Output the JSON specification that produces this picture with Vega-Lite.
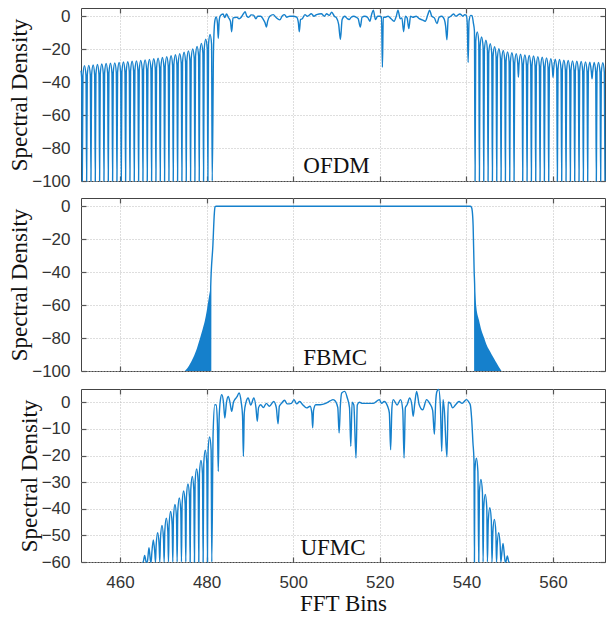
{
"$schema":"https://vega.github.io/schema/vega-lite/v6.json",
"padding":{"left":8,"top":6,"right":9,"bottom":4},
"spacing":6,
"config":{
 "view":{"stroke":"#444","strokeWidth":1},
 "axis":{"domain":false,"grid":true,"gridColor":"#bdbdbd","gridDash":[1,2],"gridWidth":1,"tickColor":"#555","tickSize":-5,"tickWidth":1.2,"labelFont":"Liberation Sans","labelFontSize":17,"labelColor":"#333","titleFont":"Liberation Serif","titleFontSize":23,"titleFontWeight":"normal","titleColor":"#111"}
},
"datasets":{
"ofdm":[
{"x":451,"y":-33},{"x":451.15,"y":-37},{"x":451.3,"y":-100},
{"x":451.45,"y":-36},{"x":451.8,"y":-30},{"x":452.15,"y":-36},{"x":452.3,"y":-100},
{"x":452.45,"y":-35.8},{"x":452.8,"y":-29.8},{"x":453.15,"y":-35.8},{"x":453.3,"y":-100},
{"x":453.45,"y":-35.6},{"x":453.8,"y":-29.6},{"x":454.15,"y":-35.6},{"x":454.3,"y":-100},
{"x":454.45,"y":-35.3},{"x":454.8,"y":-29.3},{"x":455.15,"y":-35.3},{"x":455.3,"y":-100},
{"x":455.45,"y":-35},{"x":455.8,"y":-29},{"x":456.15,"y":-35},{"x":456.3,"y":-100},
{"x":456.45,"y":-34.7},{"x":456.8,"y":-28.7},{"x":457.15,"y":-34.7},{"x":457.3,"y":-100},
{"x":457.45,"y":-34.5},{"x":457.8,"y":-28.5},{"x":458.15,"y":-34.5},{"x":458.3,"y":-100},
{"x":458.45,"y":-34.3},{"x":458.8,"y":-28.3},{"x":459.15,"y":-34.3},{"x":459.3,"y":-100},
{"x":459.45,"y":-34.1},{"x":459.8,"y":-28.1},{"x":460.15,"y":-34.1},{"x":460.3,"y":-100},
{"x":460.45,"y":-33.8},{"x":460.8,"y":-27.8},{"x":461.15,"y":-33.8},{"x":461.3,"y":-100},
{"x":461.45,"y":-33.6},{"x":461.8,"y":-27.6},{"x":462.15,"y":-33.6},{"x":462.3,"y":-100},
{"x":462.45,"y":-33.3},{"x":462.8,"y":-27.3},{"x":463.15,"y":-33.3},{"x":463.3,"y":-100},
{"x":463.45,"y":-33.1},{"x":463.8,"y":-27.1},{"x":464.15,"y":-33.1},{"x":464.3,"y":-100},
{"x":464.45,"y":-32.8},{"x":464.8,"y":-26.8},{"x":465.15,"y":-32.8},{"x":465.3,"y":-100},
{"x":465.45,"y":-32.5},{"x":465.8,"y":-26.5},{"x":466.15,"y":-32.5},{"x":466.3,"y":-100},
{"x":466.45,"y":-32.2},{"x":466.8,"y":-26.2},{"x":467.15,"y":-32.2},{"x":467.3,"y":-100},
{"x":467.45,"y":-31.8},{"x":467.8,"y":-25.8},{"x":468.15,"y":-31.8},{"x":468.3,"y":-100},
{"x":468.45,"y":-31.4},{"x":468.8,"y":-25.4},{"x":469.15,"y":-31.4},{"x":469.3,"y":-100},
{"x":469.45,"y":-31},{"x":469.8,"y":-25},{"x":470.15,"y":-31},{"x":470.3,"y":-100},
{"x":470.45,"y":-30.5},{"x":470.8,"y":-24.5},{"x":471.15,"y":-30.5},{"x":471.3,"y":-100},
{"x":471.45,"y":-30},{"x":471.8,"y":-24},{"x":472.15,"y":-30},{"x":472.3,"y":-100},
{"x":472.45,"y":-29.4},{"x":472.8,"y":-23.4},{"x":473.15,"y":-29.4},{"x":473.3,"y":-100},
{"x":473.45,"y":-28.7},{"x":473.8,"y":-22.7},{"x":474.15,"y":-28.7},{"x":474.3,"y":-100},
{"x":474.45,"y":-27.9},{"x":474.8,"y":-21.9},{"x":475.15,"y":-27.9},{"x":475.3,"y":-100},
{"x":475.45,"y":-27},{"x":475.8,"y":-21},{"x":476.15,"y":-27},{"x":476.3,"y":-100},
{"x":476.45,"y":-25.8},{"x":476.8,"y":-19.8},{"x":477.15,"y":-25.8},{"x":477.3,"y":-100},
{"x":477.45,"y":-24.3},{"x":477.8,"y":-18.3},{"x":478.15,"y":-24.3},{"x":478.3,"y":-100},
{"x":478.45,"y":-22.5},{"x":478.8,"y":-16.5},{"x":479.15,"y":-22.5},{"x":479.3,"y":-100},
{"x":479.45,"y":-20},{"x":479.8,"y":-14},{"x":480.15,"y":-20},{"x":480.3,"y":-100},
{"x":480.45,"y":-17},{"x":480.8,"y":-11},{"x":481.15,"y":-17},{"x":481.3,"y":-100},
{"x":481.6,"y":-20},{"x":481.9,"y":-3},{"x":482.2,"y":-0.5},{"x":482.5,"y":-4},{"x":482.7,"y":-13.4},{"x":482.9,"y":-3},{"x":483.1,"y":0},{"x":483.5,"y":1.2},{"x":483.8,"y":1.4},{"x":484.2,"y":-0.8},{"x":484.6,"y":1.4},{"x":485.0,"y":-0.6},{"x":485.5,"y":-3},{"x":485.8,"y":-9.4},{"x":486.1,"y":-1},{"x":486.6,"y":-0.8},{"x":487.0,"y":-0.6},{"x":487.5,"y":-1.5},{"x":488.0,"y":-0.6},{"x":488.5,"y":1.5},{"x":488.9,"y":2.7},{"x":489.3,"y":0},{"x":489.7,"y":-0.6},{"x":490.3,"y":0.8},{"x":490.8,"y":0.7},{"x":491.4,"y":-1.5},{"x":491.8,"y":0},{"x":492.5,"y":0},{"x":493.0,"y":-1.5},{"x":493.5,"y":-4},{"x":493.8,"y":-6.5},{"x":494.1,"y":-3},{"x":494.6,"y":0},{"x":495.4,"y":1},{"x":496.0,"y":-0.6},{"x":496.9,"y":-2.2},{"x":497.5,"y":0.3},{"x":498.0,"y":1},{"x":498.5,"y":-0.6},{"x":499.2,"y":0},{"x":500.0,"y":0},{"x":500.8,"y":-0.6},{"x":501.2,"y":-4},{"x":501.4,"y":-9.4},{"x":501.7,"y":-2},{"x":502.1,"y":-1.5},{"x":502.7,"y":1},{"x":503.3,"y":0},{"x":504.2,"y":1.5},{"x":504.8,"y":0},{"x":505.4,"y":1},{"x":506.5,"y":1.5},{"x":507.2,"y":0},{"x":507.7,"y":1.5},{"x":508.3,"y":0.5},{"x":508.9,"y":2.4},{"x":509.5,"y":0},{"x":510.0,"y":-1},{"x":510.5,"y":-5},{"x":510.9,"y":-14},{"x":511.3,"y":-2},{"x":511.9,"y":0},{"x":512.4,"y":-1.2},{"x":512.9,"y":-2},{"x":513.4,"y":-0.6},{"x":514.0,"y":0},{"x":514.5,"y":-0.5},{"x":515.0,"y":-1.5},{"x":515.5,"y":-6.5},{"x":515.9,"y":-0.6},{"x":516.5,"y":0},{"x":517.2,"y":-0.8},{"x":517.7,"y":-3},{"x":518.1,"y":1},{"x":518.5,"y":3.7},{"x":519.0,"y":-2},{"x":519.5,"y":0},{"x":520.0,"y":0},{"x":520.4,"y":-0.6},{"x":520.6,"y":-31},{"x":520.8,"y":-0.6},{"x":521.3,"y":-0.6},{"x":521.9,"y":0},{"x":522.6,"y":-1.5},{"x":523.3,"y":-3},{"x":523.8,"y":0},{"x":524.2,"y":3.7},{"x":524.7,"y":-1.5},{"x":525.1,"y":-1},{"x":525.5,"y":-9.4},{"x":525.9,"y":0},{"x":526.3,"y":-1},{"x":526.7,"y":-7.5},{"x":527.1,"y":0},{"x":527.6,"y":-0.6},{"x":528.4,"y":0},{"x":529.1,"y":-1.5},{"x":529.8,"y":-2.2},{"x":530.5,"y":-3},{"x":531.1,"y":1},{"x":531.5,"y":3.7},{"x":532.0,"y":0},{"x":532.6,"y":-1},{"x":533.2,"y":-4.5},{"x":533.7,"y":-0.6},{"x":534.3,"y":0},{"x":534.9,"y":-2},{"x":535.2,"y":-6},{"x":535.5,"y":-14.3},{"x":535.8,"y":-1},{"x":536.4,"y":0},{"x":537.0,"y":1.4},{"x":537.6,"y":0},{"x":538.5,"y":1.4},{"x":539.2,"y":0},{"x":539.6,"y":1},{"x":540.0,"y":0.5},{"x":540.2,"y":-5},{"x":540.4,"y":-28},{"x":540.6,"y":-3},{"x":541.0,"y":0.5},{"x":541.3,"y":0.4},{"x":541.6,"y":-4},{"x":541.85,"y":-9},{"x":542.0,"y":-100},
{"x":542.15,"y":-15.5},{"x":542.5,"y":-9.5},{"x":542.85,"y":-15.5},{"x":543,"y":-100},
{"x":543.15,"y":-18.6},{"x":543.5,"y":-12.6},{"x":543.85,"y":-18.6},{"x":544,"y":-100},
{"x":544.15,"y":-20.6},{"x":544.5,"y":-14.6},{"x":544.85,"y":-20.6},{"x":545,"y":-100},
{"x":545.15,"y":-22.7},{"x":545.5,"y":-16.7},{"x":545.85,"y":-22.7},{"x":546,"y":-100},
{"x":546.15,"y":-24.5},{"x":546.5,"y":-18.5},{"x":546.85,"y":-24.5},{"x":547,"y":-100},
{"x":547.15,"y":-25.7},{"x":547.5,"y":-19.7},{"x":547.85,"y":-25.7},{"x":548,"y":-100},
{"x":548.15,"y":-26.8},{"x":548.5,"y":-20.8},{"x":548.85,"y":-26.8},{"x":549,"y":-100},
{"x":549.15,"y":-27.6},{"x":549.5,"y":-21.6},{"x":549.85,"y":-27.6},{"x":550,"y":-100},
{"x":550.15,"y":-28.2},{"x":550.5,"y":-22.2},{"x":550.85,"y":-28.2},{"x":551,"y":-100},
{"x":551.15,"y":-28.7},{"x":551.5,"y":-22.7},{"x":551.85,"y":-28.7},{"x":552,"y":-37},
{"x":552.15,"y":-29.1},{"x":552.5,"y":-23.1},{"x":552.85,"y":-29.1},{"x":553,"y":-100},
{"x":553.15,"y":-29.5},{"x":553.5,"y":-23.5},{"x":553.85,"y":-29.5},{"x":554,"y":-100},
{"x":554.15,"y":-29.8},{"x":554.5,"y":-23.8},{"x":554.85,"y":-29.8},{"x":555,"y":-100},
{"x":555.15,"y":-30.1},{"x":555.5,"y":-24.1},{"x":555.85,"y":-30.1},{"x":556,"y":-100},
{"x":556.15,"y":-30.5},{"x":556.5,"y":-24.5},{"x":556.85,"y":-30.5},{"x":557,"y":-100},
{"x":557.15,"y":-30.9},{"x":557.5,"y":-24.9},{"x":557.85,"y":-30.9},{"x":558,"y":-100},
{"x":558.15,"y":-31.3},{"x":558.5,"y":-25.3},{"x":558.85,"y":-31.3},{"x":559,"y":-100},
{"x":559.15,"y":-31.7},{"x":559.5,"y":-25.7},{"x":559.85,"y":-31.7},{"x":560,"y":-37},
{"x":560.15,"y":-32},{"x":560.5,"y":-26},{"x":560.85,"y":-32},{"x":561,"y":-100},
{"x":561.15,"y":-32.3},{"x":561.5,"y":-26.3},{"x":561.85,"y":-32.3},{"x":562,"y":-100},
{"x":562.15,"y":-32.7},{"x":562.5,"y":-26.7},{"x":562.85,"y":-32.7},{"x":563,"y":-100},
{"x":563.15,"y":-32.9},{"x":563.5,"y":-26.9},{"x":563.85,"y":-32.9},{"x":564,"y":-100},
{"x":564.15,"y":-33.1},{"x":564.5,"y":-27.1},{"x":564.85,"y":-33.1},{"x":565,"y":-100},
{"x":565.15,"y":-33.3},{"x":565.5,"y":-27.3},{"x":565.85,"y":-33.3},{"x":566,"y":-100},
{"x":566.15,"y":-33.5},{"x":566.5,"y":-27.5},{"x":566.85,"y":-33.5},{"x":567,"y":-100},
{"x":567.15,"y":-33.7},{"x":567.5,"y":-27.7},{"x":567.85,"y":-33.7},{"x":568,"y":-100},
{"x":568.15,"y":-33.9},{"x":568.5,"y":-27.9},{"x":568.85,"y":-33.9},{"x":569,"y":-38},
{"x":569.15,"y":-34},{"x":569.5,"y":-28},{"x":569.85,"y":-34},{"x":570,"y":-100},
{"x":570.15,"y":-34.1},{"x":570.5,"y":-28.1},{"x":570.85,"y":-34.1},{"x":571,"y":-100},
{"x":571.15,"y":-34.2},{"x":571.5,"y":-28.2},{"x":571.85,"y":-34.2},{"x":572,"y":-100}
],
"fbmc":[
{"x":480.93,"y":-100},{"x":480.95,"y":-49},{"x":481.45,"y":-24},{"x":481.8,"y":-4},{"x":481.95,"y":-0.3},{"x":482.2,"y":0},{"x":540.9,"y":0},{"x":541.15,"y":-0.5},{"x":541.35,"y":-3},{"x":541.55,"y":-12},{"x":541.78,"y":-39},{"x":541.93,"y":-52},{"x":541.95,"y":-100}
],
"fbmcfill":[
{"s":"L","x":475.0,"y":-100},{"s":"L","x":476.0,"y":-96.5},{"s":"L","x":476.9,"y":-92},{"s":"L","x":477.8,"y":-86},{"s":"L","x":478.5,"y":-80},{"s":"L","x":479.1,"y":-74.5},{"s":"L","x":479.6,"y":-69.5},{"s":"L","x":480.0,"y":-64},{"s":"L","x":480.4,"y":-57.3},{"s":"L","x":480.7,"y":-52.5},{"s":"L","x":480.95,"y":-49},
{"s":"R","x":541.93,"y":-50},{"s":"R","x":542.3,"y":-61.4},{"s":"R","x":542.9,"y":-69},{"s":"R","x":543.5,"y":-75.6},{"s":"R","x":544.1,"y":-80},{"s":"R","x":544.6,"y":-83.7},{"s":"R","x":545.2,"y":-87},{"s":"R","x":545.8,"y":-89.8},{"s":"R","x":546.4,"y":-92.5},{"s":"R","x":546.9,"y":-94.9},{"s":"R","x":547.5,"y":-97.5},{"s":"R","x":548.1,"y":-100}
],
"ufmc":[
{"x":465.2,"y":-60},
{"x":465.35,"y":-60},{"x":465.7,"y":-57.5},{"x":466.05,"y":-60},{"x":466.2,"y":-60},
{"x":466.35,"y":-59.6},{"x":466.7,"y":-54.6},{"x":467.05,"y":-59.6},{"x":467.2,"y":-60},
{"x":467.35,"y":-56.7},{"x":467.7,"y":-51.7},{"x":468.05,"y":-56.7},{"x":468.2,"y":-60},
{"x":468.35,"y":-54},{"x":468.7,"y":-49},{"x":469.05,"y":-54},{"x":469.2,"y":-60},
{"x":469.35,"y":-51.3},{"x":469.7,"y":-46.3},{"x":470.05,"y":-51.3},{"x":470.2,"y":-60},
{"x":470.35,"y":-48.5},{"x":470.7,"y":-43.5},{"x":471.05,"y":-48.5},{"x":471.2,"y":-60},
{"x":471.35,"y":-46},{"x":471.7,"y":-41},{"x":472.05,"y":-46},{"x":472.2,"y":-60},
{"x":472.35,"y":-43.4},{"x":472.7,"y":-38.4},{"x":473.05,"y":-43.4},{"x":473.2,"y":-60},
{"x":473.35,"y":-40.9},{"x":473.7,"y":-35.9},{"x":474.05,"y":-40.9},{"x":474.2,"y":-60},
{"x":474.35,"y":-38.3},{"x":474.7,"y":-33.3},{"x":475.05,"y":-38.3},{"x":475.2,"y":-60},
{"x":475.35,"y":-35.7},{"x":475.7,"y":-30.7},{"x":476.05,"y":-35.7},{"x":476.2,"y":-60},
{"x":476.35,"y":-32.9},{"x":476.7,"y":-27.9},{"x":477.05,"y":-32.9},{"x":477.2,"y":-60},
{"x":477.35,"y":-30},{"x":477.7,"y":-25},{"x":478.05,"y":-30},{"x":478.2,"y":-60},
{"x":478.35,"y":-26.8},{"x":478.7,"y":-21.8},{"x":479.05,"y":-26.8},{"x":479.2,"y":-60},
{"x":479.35,"y":-23},{"x":479.7,"y":-18},{"x":480.05,"y":-23},{"x":480.2,"y":-60},
{"x":480.35,"y":-18},{"x":480.7,"y":-13},{"x":481.05,"y":-18},{"x":481.2,"y":-60},
{"x":481.5,"y":-12},{"x":481.9,"y":-0.9},{"x":482.2,"y":-1},{"x":482.5,"y":-8},{"x":482.7,"y":-26},{"x":482.9,"y":-6},{"x":483.2,"y":1},{"x":483.5,"y":2.9},{"x":483.9,"y":0},{"x":484.2,"y":-5.9},{"x":484.6,"y":0},{"x":485.0,"y":2.2},{"x":485.4,"y":0},{"x":485.8,"y":-3.4},{"x":486.2,"y":0},{"x":486.5,"y":1},{"x":487.0,"y":2},{"x":487.5,"y":3.5},{"x":488.0,"y":0},{"x":488.3,"y":-5},{"x":488.5,"y":-20.3},{"x":488.7,"y":-4},{"x":489.1,"y":0},{"x":489.6,"y":1.6},{"x":490.2,"y":-1},{"x":490.9,"y":1.6},{"x":491.4,"y":-2},{"x":491.7,"y":-7.1},{"x":492.0,"y":-2},{"x":492.5,"y":-0.9},{"x":493.1,"y":-2},{"x":493.8,"y":-0.4},{"x":494.5,"y":-1.5},{"x":495.5,"y":0.3},{"x":496.1,"y":-2},{"x":496.5,"y":-8.1},{"x":496.8,"y":-1.5},{"x":497.3,"y":-0.4},{"x":498.0,"y":0.8},{"x":498.6,"y":-0.6},{"x":499.6,"y":-0.4},{"x":500.2,"y":1},{"x":500.8,"y":-0.6},{"x":501.5,"y":0.3},{"x":502.2,"y":-0.9},{"x":503.1,"y":-2.1},{"x":503.9,"y":-1.5},{"x":504.3,"y":-4},{"x":504.5,"y":-9.6},{"x":504.7,"y":-3},{"x":505.2,"y":-0.9},{"x":506.2,"y":-0.9},{"x":507.5,"y":-0.4},{"x":508.5,"y":0.5},{"x":509.2,"y":1},{"x":509.8,"y":0.3},{"x":510.3,"y":-2},{"x":510.6,"y":-11.5},{"x":510.9,"y":-1},{"x":511.2,"y":3.5},{"x":511.9,"y":4.1},{"x":512.5,"y":1.6},{"x":513.0,"y":-2},{"x":513.3,"y":-16.5},{"x":513.6,"y":0},{"x":514.0,"y":-1},{"x":514.5,"y":-20.9},{"x":514.8,"y":-1},{"x":515.3,"y":0},{"x":516.0,"y":-0.4},{"x":517.0,"y":-0.4},{"x":518.5,"y":-0.4},{"x":519.9,"y":1},{"x":520.4,"y":-0.4},{"x":521.0,"y":0.3},{"x":521.8,"y":-1.5},{"x":522.2,"y":-4},{"x":522.5,"y":-17.8},{"x":522.8,"y":-2},{"x":523.1,"y":1},{"x":524.0,"y":-1},{"x":524.8,"y":1},{"x":525.3,"y":-3},{"x":525.6,"y":-20.9},{"x":525.9,"y":-2},{"x":526.3,"y":-0.9},{"x":526.9,"y":1.6},{"x":527.4,"y":-1},{"x":527.7,"y":-5.3},{"x":528.1,"y":0},{"x":528.5,"y":4.1},{"x":529.1,"y":-0.9},{"x":529.9,"y":-2.8},{"x":530.8,"y":1},{"x":531.5,"y":-0.4},{"x":532.2,"y":-3},{"x":532.6,"y":-12},{"x":532.9,"y":0},{"x":533.2,"y":4.1},{"x":533.6,"y":4.8},{"x":534.0,"y":-2},{"x":534.3,"y":-18.4},{"x":534.6,"y":1},{"x":534.9,"y":-3},{"x":535.5,"y":-20.5},{"x":535.8,"y":0},{"x":536.3,"y":-0.4},{"x":536.8,"y":-2.1},{"x":537.5,"y":-0.9},{"x":538.3,"y":0.3},{"x":539.0,"y":-0.4},{"x":540.0,"y":1},{"x":540.6,"y":0},{"x":540.9,"y":-1},{"x":541.2,"y":-6},{"x":541.5,"y":-15},{"x":541.75,"y":-22},{"x":541.85,"y":-60},
{"x":541.95,"y":-26},{"x":542.3,"y":-21},{"x":542.65,"y":-26},{"x":542.85,"y":-60},
{"x":543.0,"y":-34},{"x":543.35,"y":-29},{"x":543.7,"y":-34},{"x":543.85,"y":-60},
{"x":544.0,"y":-39.6},{"x":544.35,"y":-34.6},{"x":544.7,"y":-39.6},{"x":544.85,"y":-60},
{"x":545.05,"y":-44.6},{"x":545.4,"y":-39.6},{"x":545.75,"y":-44.6},{"x":545.9,"y":-60},
{"x":546.1,"y":-49},{"x":546.45,"y":-44},{"x":546.8,"y":-49},{"x":546.95,"y":-60},
{"x":547.1,"y":-54},{"x":547.45,"y":-49},{"x":547.8,"y":-54},{"x":547.95,"y":-60},
{"x":548.1,"y":-58},{"x":548.45,"y":-53},{"x":548.8,"y":-58},{"x":548.95,"y":-60},
{"x":549.1,"y":-60},{"x":549.45,"y":-57.7},{"x":549.8,"y":-60},{"x":549.95,"y":-60}
]
},
"vconcat":[
{"width":524,"height":173,
 "resolve":{"axis":{"x":"independent","y":"independent"}},
 "layer":[
  {"data":{"name":"ofdm"},"mark":{"type":"line","interpolate":"monotone","color":"#1580cc","strokeWidth":1.4},
   "encoding":{
    "x":{"field":"x","type":"quantitative","scale":{"domain":[451,572],"nice":false,"zero":false},"axis":{"values":[460,480,500,520,540,560],"labels":false,"title":null}},
    "y":{"field":"y","type":"quantitative","scale":{"domain":[-100,5],"nice":false,"zero":false},"axis":{"values":[-100,-80,-60,-40,-20,0],"title":"Spectral Density","labelPadding":16,"titlePadding":0}}}},
  {"data":{"values":[{}]},"mark":{"type":"text","font":"Liberation Serif","fontSize":23,"color":"#111"},
   "encoding":{
    "x":{"datum":510,"scale":{"domain":[451,572],"nice":false,"zero":false},"axis":{"orient":"top","values":[460,480,500,520,540,560],"labels":false,"grid":false,"title":null}},
    "y":{"datum":-91,"scale":{"domain":[-100,5],"nice":false,"zero":false},"axis":{"orient":"right","values":[-100,-80,-60,-40,-20,0],"labels":false,"grid":false,"title":null}},
    "text":{"value":"OFDM"}}}
 ]},
{"width":524,"height":173,
 "resolve":{"axis":{"x":"independent","y":"independent"}},
 "layer":[
  {"data":{"name":"fbmcfill"},"mark":{"type":"area","interpolate":"monotone","color":"#1580cc"},
   "encoding":{
    "x":{"field":"x","type":"quantitative","scale":{"domain":[451,572],"nice":false,"zero":false},"axis":{"values":[460,480,500,520,540,560],"labels":false,"title":null}},
    "y":{"field":"y","type":"quantitative","scale":{"domain":[-100,5],"nice":false,"zero":false},"axis":{"values":[-100,-80,-60,-40,-20,0],"title":"Spectral Density","labelPadding":16,"titlePadding":0}},
    "y2":{"datum":-100},
    "detail":{"field":"s"}}},
  {"data":{"name":"fbmc"},"mark":{"type":"line","interpolate":"monotone","color":"#1580cc","strokeWidth":1.4},
   "encoding":{
    "x":{"field":"x","type":"quantitative","scale":{"domain":[451,572],"nice":false,"zero":false},"axis":null},
    "y":{"field":"y","type":"quantitative","scale":{"domain":[-100,5],"nice":false,"zero":false},"axis":null}}},
  {"data":{"values":[{}]},"mark":{"type":"text","font":"Liberation Serif","fontSize":23,"color":"#111"},
   "encoding":{
    "x":{"datum":509.7,"scale":{"domain":[451,572],"nice":false,"zero":false},"axis":{"orient":"top","values":[460,480,500,520,540,560],"labels":false,"grid":false,"title":null}},
    "y":{"datum":-92.4,"scale":{"domain":[-100,5],"nice":false,"zero":false},"axis":{"orient":"right","values":[-100,-80,-60,-40,-20,0],"labels":false,"grid":false,"title":null}},
    "text":{"value":"FBMC"}}}
 ]},
{"width":524,"height":173,
 "resolve":{"axis":{"x":"independent","y":"independent"}},
 "layer":[
  {"data":{"name":"ufmc"},"mark":{"type":"line","interpolate":"monotone","color":"#1580cc","strokeWidth":1.4},
   "encoding":{
    "x":{"field":"x","type":"quantitative","scale":{"domain":[451,572],"nice":false,"zero":false},"axis":{"values":[460,480,500,520,540,560],"title":"FFT Bins","labelPadding":17,"titlePadding":2}},
    "y":{"field":"y","type":"quantitative","scale":{"domain":[-60,5],"nice":false,"zero":false},"axis":{"values":[-60,-50,-40,-30,-20,-10,0],"title":"Spectral Density","labelPadding":16,"titlePadding":0}}}},
  {"data":{"values":[{}]},"mark":{"type":"text","font":"Liberation Serif","fontSize":23,"color":"#111"},
   "encoding":{
    "x":{"datum":509.2,"scale":{"domain":[451,572],"nice":false,"zero":false},"axis":{"orient":"top","values":[460,480,500,520,540,560],"labels":false,"grid":false,"title":null}},
    "y":{"datum":-54.9,"scale":{"domain":[-60,5],"nice":false,"zero":false},"axis":{"orient":"right","values":[-60,-50,-40,-30,-20,-10,0],"labels":false,"grid":false,"title":null}},
    "text":{"value":"UFMC"}}}
 ]}
]
}
